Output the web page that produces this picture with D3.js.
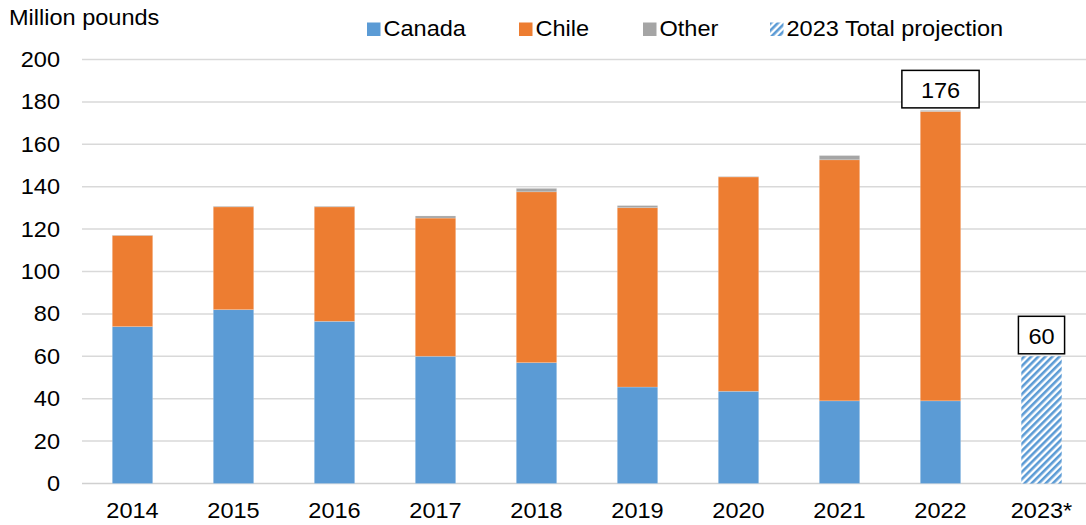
<!DOCTYPE html>
<html>
<head>
<meta charset="utf-8">
<script src="https://cdn.jsdelivr.net/npm/d3@7/dist/d3.min.js"></script>
<style>
  html, body { margin: 0; padding: 0; background: #fff; }
  svg { display: block; font-family: "Liberation Sans", Arial, sans-serif; }
</style>
</head>
<body>
<svg id="chart" width="1086" height="525"></svg>
<script>
// Supply by origin, million pounds
const years      = ["2014", "2015", "2016", "2017", "2018", "2019", "2020", "2021", "2022", "2023*"];
const canada     = [74, 82, 76.5, 60, 57, 45.5, 43.5, 39, 39, 0];
const chile      = [43, 48.5, 54, 65.2, 80.6, 84.6, 101.1, 113.7, 136.5, 0];
const other      = [0.2, 0.3, 0.3, 1, 1.6, 1, 0.2, 2, 0.5, 0];
const projection = [0, 0, 0, 0, 0, 0, 0, 0, 0, 60];
const labelYears = ["2022", "2023*"];
const yTicks     = [0, 20, 40, 60, 80, 100, 120, 140, 160, 180, 200];

const seriesKeys   = ["Canada", "Chile", "Other"];
const seriesValues = { Canada: canada, Chile: chile, Other: other };
const colors = { Canada: "#5B9BD5", Chile: "#ED7D31", Other: "#A5A5A5" };

const svg = d3.select("#chart");
const W = 1086, H = 525;
const plot = { left: 82, right: 1092, top: 59.5, bottom: 483.5 };
const FS = 22, SX = 1.07;   // font size and horizontal stretch of all text

const x = d3.scaleBand().domain(years).range([plot.left, plot.right])
  .paddingInner(0.6).paddingOuter(0.3);
const y = d3.scaleLinear().domain([0, 200]).range([plot.bottom, plot.top]);

// hatched fill for the projection
const defs = svg.append("defs");
const pat = defs.append("pattern").attr("id", "hatch")
  .attr("patternUnits", "userSpaceOnUse").attr("width", 5).attr("height", 5)
  .attr("patternTransform", "rotate(45)");
pat.append("rect").attr("width", 5).attr("height", 5).attr("fill", "#fff");
pat.append("rect").attr("width", 2.6).attr("height", 5).attr("fill", "#5B9BD5");

// gridlines
svg.append("g").selectAll("line").data(yTicks).join("line")
  .attr("x1", plot.left).attr("x2", W)
  .attr("y1", d => y(d)).attr("y2", d => y(d))
  .attr("stroke", d => d === 0 ? "#D0D0D0" : "#D9D9D9").attr("stroke-width", 1.5);

// stacked bars
const table = years.map((yr, i) => {
  const row = { year: yr };
  seriesKeys.forEach(k => row[k] = seriesValues[k][i]);
  return row;
});
const stacked = d3.stack().keys(seriesKeys)(table);
svg.append("g").selectAll("g").data(stacked).join("g")
  .attr("fill", d => colors[d.key])
  .selectAll("rect").data(d => d.filter(p => p[1] - p[0] > 0)).join("rect")
  .attr("x", d => x(d.data.year))
  .attr("width", x.bandwidth())
  .attr("y", d => y(d[1]))
  .attr("height", d => y(d[0]) - y(d[1]))
  .attr("stroke", "#fff").attr("stroke-opacity", 0.25).attr("stroke-width", 0.75);

// projection bar
const projData = years.map((yr, i) => ({ year: yr, value: projection[i] })).filter(d => d.value > 0);
svg.append("g").selectAll("rect").data(projData).join("rect")
  .attr("x", d => x(d.year)).attr("width", x.bandwidth())
  .attr("y", d => y(d.value)).attr("height", d => y(0) - y(d.value))
  .attr("fill", "url(#hatch)");

// y axis labels
const yAxis = svg.append("g").attr("transform", `translate(${plot.left},0)`)
  .call(d3.axisLeft(y).tickValues(yTicks).tickSize(0).tickPadding(0));
yAxis.select(".domain").remove();
yAxis.selectAll("text")
  .attr("x", -22 / SX).attr("transform", `scale(${SX},1)`)
  .attr("font-size", FS).attr("font-family", "Liberation Sans, Arial, sans-serif").attr("fill", "#000");

// x axis labels
const xAxis = svg.append("g").attr("transform", `translate(0,${plot.bottom})`)
  .call(d3.axisBottom(x).tickSize(0).tickPadding(18.5));
xAxis.select(".domain").remove();
xAxis.selectAll(".tick text")
  .attr("transform", `scale(${SX},1)`)
  .attr("font-size", FS).attr("font-family", "Liberation Sans, Arial, sans-serif").attr("fill", "#000");

// stretched text helper
function label(g, tx, ty, str, anchor) {
  return g.append("text")
    .attr("transform", `translate(${tx},${ty}) scale(${SX},1)`)
    .attr("text-anchor", anchor || "start")
    .attr("font-size", FS).attr("fill", "#000")
    .text(str);
}

// axis title
label(svg, 9, 25, "Million pounds");

// legend
const legendItems = [
  { name: "Canada", fill: colors.Canada, x: 367 },
  { name: "Chile", fill: colors.Chile, x: 519 },
  { name: "Other", fill: colors.Other, x: 643 },
  { name: "2023 Total projection", fill: "url(#hatch)", x: 770 }
];
const lg = svg.append("g");
legendItems.forEach(it => {
  lg.append("rect").attr("x", it.x).attr("y", 22.5).attr("width", 13.5).attr("height", 13.5).attr("fill", it.fill);
  label(lg, it.x + 16.5, 36, it.name);
});

// total labels in boxes
const totalOf = yr => {
  const i = years.indexOf(yr);
  return canada[i] + chile[i] + other[i] + projection[i];
};
const boxPad = { "2022": 19, "2023*": 10 };
const lb = svg.append("g");
labelYears.forEach(yr => {
  const v = totalOf(yr);
  const cx = x(yr) + x.bandwidth() / 2;
  const bottom = y(v) - 2.5;
  const g = lb.append("g");
  const t = label(g, cx, bottom - 10, d3.format(".0f")(v), "middle");
  const tw = t.node().getBBox().width * SX;
  const bw = tw + 2 * boxPad[yr];
  g.insert("rect", "text")
    .attr("x", cx - bw / 2).attr("y", bottom - 37.5)
    .attr("width", bw).attr("height", 37.5)
    .attr("fill", "#fff").attr("stroke", "#000").attr("stroke-width", 1.5);
});
</script>
</body>
</html>
